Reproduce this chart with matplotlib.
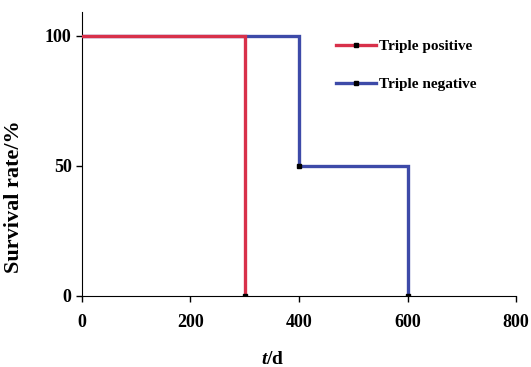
import matplotlib.pyplot as plt
from matplotlib.lines import Line2D

# survival curves (step points)
pos_t = [0, 300, 300]
pos_s = [100, 100, 0]
neg_t = [0, 400, 400, 600, 600]
neg_s = [100, 100, 50, 50, 0]
# event markers
pos_evt_t = [300]
pos_evt_s = [0]
neg_evt_t = [400, 600]
neg_evt_s = [50, 0]

red = '#d8304a'
blue = '#3d4aa8'

plt.rcParams['font.family'] = 'Liberation Serif'
plt.rcParams['font.weight'] = 'bold'
plt.rcParams['mathtext.fontset'] = 'custom'
plt.rcParams['mathtext.it'] = 'Liberation Serif:italic:bold'
plt.rcParams['mathtext.rm'] = 'Liberation Serif:bold'

fig = plt.figure(figsize=(5.31, 3.67), dpi=100)
ax = fig.add_axes([0.1544, 0.1935, 0.8174, 0.7735])

ax.plot(neg_t, neg_s, color=blue, lw=2.4, solid_joinstyle='miter', zorder=2)
ax.plot(pos_t, pos_s, color=red, lw=2.4, solid_joinstyle='miter', zorder=3)
ax.plot(pos_evt_t, pos_evt_s, 's', color='black', ms=3, zorder=4)
ax.plot(neg_evt_t, neg_evt_s, 's', color='black', ms=3, zorder=4)

ax.set_xlim(0, 800)
ax.set_ylim(0, 109)
ax.set_xticks([0, 200, 400, 600, 800])
ax.set_yticks([0, 50, 100])
ax.spines['top'].set_visible(False)
ax.spines['right'].set_visible(False)
ax.tick_params(labelsize=13, length=4, width=1, direction='out')
ax.tick_params(axis='x', pad=9)
for lab in ax.get_xticklabels() + ax.get_yticklabels():
    lab.set_fontweight('bold')

ax.set_ylabel('Survival rate/%', fontsize=16, fontweight='bold')
ax.yaxis.set_label_coords(-0.133, 0.349)
ax.set_xlabel('$\\mathit{t}$/d', fontsize=14, fontweight='bold')
ax.xaxis.set_label_coords(0.44, -0.195)

handles = [
    Line2D([0], [0], color=red, lw=2.4, marker='s', markersize=3,
           markerfacecolor='black', markeredgecolor='black'),
    Line2D([0], [0], color=blue, lw=2.4, marker='s', markersize=3,
           markerfacecolor='black', markeredgecolor='black'),
]
ax.legend(handles, ['Triple positive', 'Triple negative'], loc='upper left',
          bbox_to_anchor=(0.585, 0.904), frameon=False,
          labelspacing=1.6, handlelength=2.6, handletextpad=0.25,
          borderpad=0, borderaxespad=0,
          prop={'weight': 'bold', 'size': 11})

fig.savefig('out.png', dpi=100)
